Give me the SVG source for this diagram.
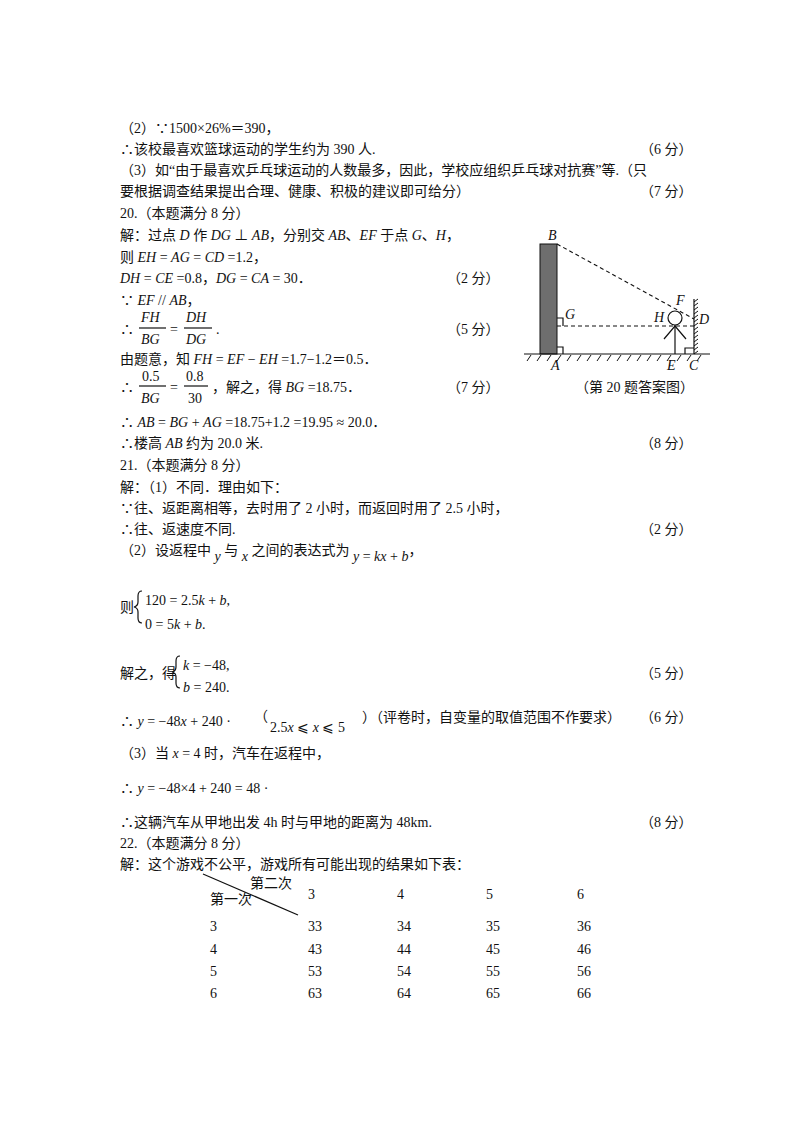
<svg xmlns="http://www.w3.org/2000/svg" width="800" height="1132" viewBox="0 0 800 1132">
<style>
text{font-family:"Liberation Serif","Noto Sans CJK SC",serif;font-size:14px;fill:#111}
.i{font-style:italic}
.ln{stroke:#111;stroke-width:1.2;fill:none}
.d{stroke:#111;stroke-width:1.1;stroke-dasharray:4,3;fill:none}
</style>
<rect width="800" height="1132" fill="#fff"/>
<g id="text">
<text x="120" y="133">（2）∵1500×26%＝390，</text>
<text x="120" y="154">∴该校最喜欢篮球运动的学生约为 390 人.</text><text x="640" y="154">（6 分）</text>
<text x="120" y="175">（3）如“由于最喜欢乒乓球运动的人数最多，因此，学校应组织乒乓球对抗赛”等.（只</text>
<text x="120" y="196">要根据调查结果提出合理、健康、积极的建议即可给分）</text><text x="640" y="196">（7 分）</text>
<text x="120" y="218">20.（本题满分 8 分）</text>
<text x="120" y="240">解：过点 <tspan class="i">D</tspan> 作 <tspan class="i">DG</tspan> ⊥ <tspan class="i">AB</tspan>，分别交 <tspan class="i">AB</tspan>、<tspan class="i">EF</tspan> 于点 <tspan class="i">G</tspan>、<tspan class="i">H</tspan>，</text>
<text x="120" y="262">则 <tspan class="i">EH</tspan> = <tspan class="i">AG</tspan> = <tspan class="i">CD</tspan> =1.2，</text>
<text x="120" y="283"><tspan class="i">DH</tspan> = <tspan class="i">CE</tspan> =0.8，<tspan class="i">DG</tspan> = <tspan class="i">CA</tspan> = 30．</text><text x="447" y="283">（2 分）</text>
<text x="120" y="305">∵ <tspan class="i">EF</tspan> // <tspan class="i">AB</tspan>，</text>
<text x="120" y="334">∴</text>
<text x="141" y="322" class="i">FH</text><line x1="139" y1="328" x2="166" y2="328" class="ln"/><text x="141" y="344" class="i">BG</text>
<text x="170" y="334">=</text>
<text x="186" y="322" class="i">DH</text><line x1="184" y1="328" x2="212" y2="328" class="ln"/><text x="186" y="344" class="i">DG</text>
<text x="216" y="334">.</text><text x="447" y="334">（5 分）</text>
<text x="120" y="364">由题意，知 <tspan class="i">FH</tspan> = <tspan class="i">EF</tspan> − <tspan class="i">EH</tspan> =1.7−1.2＝0.5．</text>
<text x="120" y="392">∴</text>
<text x="142" y="381">0.5</text><line x1="139" y1="386" x2="166" y2="386" class="ln"/><text x="141" y="403" class="i">BG</text>
<text x="170" y="392">=</text>
<text x="186" y="381">0.8</text><line x1="184" y1="386" x2="208" y2="386" class="ln"/><text x="188" y="403">30</text>
<text x="212" y="392">，解之，得 <tspan class="i">BG</tspan> =18.75．</text><text x="447" y="392">（7 分）</text>
<text x="120" y="427">∴ <tspan class="i">AB</tspan> = <tspan class="i">BG</tspan> + <tspan class="i">AG</tspan> =18.75+1.2 =19.95 ≈ 20.0．</text>
<text x="120" y="448">∴楼高 <tspan class="i">AB</tspan> 约为 20.0 米.</text><text x="640" y="448">（8 分）</text>
<text x="120" y="470">21.（本题满分 8 分）</text>
<text x="120" y="492">解：（1）不同．理由如下：</text>
<text x="120" y="513">∵往、返距离相等，去时用了 2 小时，而返回时用了 2.5 小时，</text>
<text x="120" y="534">∴往、返速度不同.</text><text x="640" y="534">（2 分）</text>
<text x="120" y="555">（2）设返程中 <tspan class="i" dy="6">y</tspan><tspan dy="-6"> 与 </tspan><tspan class="i" dy="6">x</tspan><tspan dy="-6"> 之间的表达式为 </tspan><tspan class="i" dy="6">y</tspan> = <tspan class="i">kx</tspan> + <tspan class="i">b</tspan><tspan dy="-6">，</tspan></text>
<text x="120" y="612">则</text>
<path d="M142 591 q-4 0 -4 5 v6 q0 4 -4 5 q4 1 4 5 v6 q0 5 4 5" class="ln"/>
<text x="145" y="605">120 = 2.5<tspan class="i">k</tspan> + <tspan class="i">b</tspan>,</text>
<text x="145" y="629">0 = 5<tspan class="i">k</tspan> + <tspan class="i">b</tspan>.</text>
<text x="120" y="678">解之，得</text>
<path d="M180 656 q-4 0 -4 5 v6 q0 4 -4 5 q4 1 4 5 v6 q0 5 4 5" class="ln"/>
<text x="183" y="670"><tspan class="i">k</tspan> = −48,</text>
<text x="183" y="692"><tspan class="i">b</tspan> = 240.</text><text x="640" y="678">（5 分）</text>
<text x="120" y="726">∴ <tspan class="i">y</tspan> = −48<tspan class="i">x</tspan> + 240 ·</text>
<text x="254" y="721">（</text><text x="270" y="732">2.5<tspan class="i">x</tspan> ⩽ <tspan class="i">x</tspan> ⩽ 5</text>
<text x="362" y="722">）（评卷时，自变量的取值范围不作要求）</text><text x="640" y="722">（6 分）</text>
<text x="120" y="758">（3）当 <tspan class="i">x</tspan> = 4 时，汽车在返程中，</text>
<text x="120" y="793">∴ <tspan class="i">y</tspan> = −48×4 + 240 = 48 ·</text>
<text x="120" y="827">∴这辆汽车从甲地出发 4h 时与甲地的距离为 48km.</text><text x="640" y="827">（8 分）</text>
<text x="120" y="848">22.（本题满分 8 分）</text>
<text x="120" y="869">解：这个游戏不公平，游戏所有可能出现的结果如下表：</text>
</g>
<g id="table">
<line x1="203" y1="874" x2="298" y2="915" class="ln"/>
<text x="250" y="888">第二次</text><text x="210" y="904">第一次</text>
<text x="308" y="899">3</text><text x="397" y="899">4</text><text x="486" y="899">5</text><text x="577" y="899">6</text>
<text x="210" y="931">3</text><text x="308" y="931">33</text><text x="397" y="931">34</text><text x="486" y="931">35</text><text x="577" y="931">36</text>
<text x="210" y="954">4</text><text x="308" y="954">43</text><text x="397" y="954">44</text><text x="486" y="954">45</text><text x="577" y="954">46</text>
<text x="210" y="976">5</text><text x="308" y="976">53</text><text x="397" y="976">54</text><text x="486" y="976">55</text><text x="577" y="976">56</text>
<text x="210" y="998">6</text><text x="308" y="998">63</text><text x="397" y="998">64</text><text x="486" y="998">65</text><text x="577" y="998">66</text>
</g>
<g id="figure">
<rect x="540" y="244" width="17" height="110" fill="#6e6e6e" stroke="#111"/>
<line x1="524" y1="354" x2="710" y2="354" class="ln"/>
<path d="M531 355l-4 6M541 355l-4 6M551 355l-4 6M561 355l-4 6M571 355l-4 6M581 355l-4 6M591 355l-4 6M601 355l-4 6M611 355l-4 6M621 355l-4 6M631 355l-4 6M641 355l-4 6M651 355l-4 6M661 355l-4 6M671 355l-4 6M681 355l-4 6M691 355l-4 6M701 355l-4 6" stroke="#111" stroke-width="1"/>
<line x1="694" y1="299" x2="694" y2="354" class="ln"/>
<path d="M694 302l4-3M694 306l4-3M694 310l4-3M694 314l4-3M694 318l4-3M694 322l4-3M694 326l4-3M694 330l4-3M694 334l4-3M694 338l4-3M694 342l4-3M694 346l4-3M694 350l4-3M694 354l4-3" stroke="#111" stroke-width="1"/>
<line x1="557" y1="244" x2="694" y2="319" class="d"/>
<line x1="557" y1="326" x2="694" y2="326" class="d"/>
<circle cx="675" cy="318" r="7" class="ln" fill="#fff"/>
<line x1="675" y1="325" x2="675" y2="354" class="ln"/>
<path d="M664 339l11-13 11 13" class="ln"/>
<path d="M557 318h6v8M557 347h6v7M685 354v-6h9" class="ln"/>
<text x="548" y="240" class="i">B</text>
<text x="565" y="319" class="i">G</text>
<text x="551" y="370" class="i">A</text>
<text x="676" y="305" class="i">F</text>
<text x="654" y="322" class="i">H</text>
<text x="699" y="324" class="i">D</text>
<text x="667" y="370" class="i">E</text>
<text x="689" y="370" class="i">C</text>
<text x="575" y="392">（第 20 题答案图）</text>
</g>
</svg>
